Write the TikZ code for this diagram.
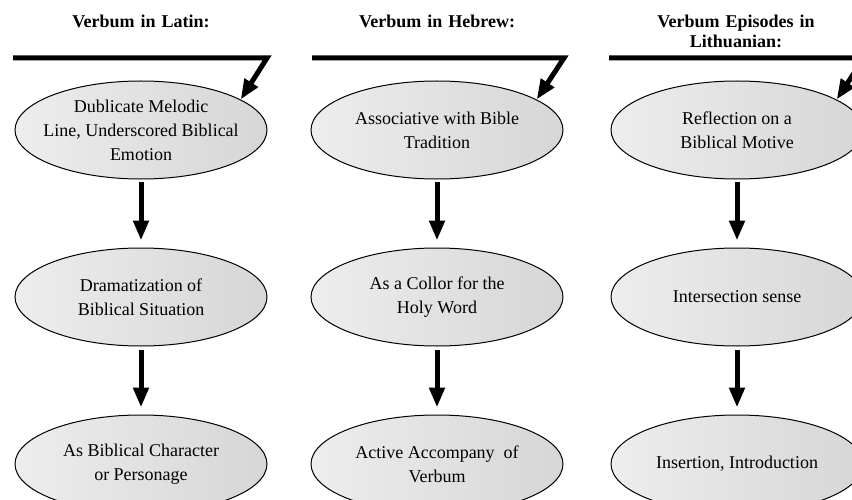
\documentclass[tikz,border=0pt]{standalone}
\usepackage{fontspec}
\setmainfont{Liberation Serif}
\usetikzlibrary{positioning,shapes.geometric,arrows.meta}

\begin{document}
\begin{tikzpicture}[x=1pt,y=-1pt,
        oval/.style={ellipse,draw,line width=1pt,minimum width=252pt,minimum height=98pt,inner sep=-12pt,
          align=center,font=\fontsize{18}{24}\selectfont,
          left color=black!7,middle color=black!1,right color=black!16,node distance=68pt},
        head/.style={anchor=base,text width=240pt,align=center,font=\fontsize{18}{20}\selectfont\bfseries},
        bar/.style={line width=5pt,line join=miter,-{Triangle[length=20pt,width=15pt]}},
        arr/.style={line width=5pt,-{Triangle[length=20pt,width=15pt]},shorten <=3pt,shorten >=7pt}]
   \clip (0,0) rectangle (852,500);
   % headings
   \node[head] (tL) at (141,28) {Verbum in Latin:};
   \node[head] (tH) at (437,28) {Verbum in Hebrew:};
   \node[head] (tT) at (736,28) {Verbum Episodes in\\Lithuanian:};
   % Latin
   \node[oval] (L1) at (141,130) {Dublicate Melodic\\Line, Underscored Biblical\\Emotion};
   \node[oval] (L2) [below=of L1] {Dramatization of\\Biblical Situation};
   \node[oval] (L3) [below=of L2] {As Biblical Character\\or Personage};
   % Hebrew
   \node[oval] (H1) at (437,130) {Associative with Bible\\Tradition};
   \node[oval] (H2) [below=of H1] {As a Collor for the\\Holy Word};
   \node[oval] (H3) [below=of H2] {Active Accompany\ \ of\\Verbum};
   % Lithuanian
   \node[oval] (T1) at (737,130) {Reflection on a\\Biblical Motive};
   \node[oval] (T2) [below=of T1] {Intersection sense};
   \node[oval] (T3) [below=of T2] {Insertion, Introduction};
   % bars
   \coordinate (Lb) at (13,58);  \coordinate (Lk) at (267,58);
   \coordinate (Hb) at (312,58); \coordinate (Hk) at (564,58);
   \coordinate (Tb) at (609,58); \coordinate (Tk) at (864,58);
   \draw[bar] (Lb) -- (Lk) -- (L1.17);
   \draw[bar] (Hb) -- (Hk) -- (H1.17);
   \draw[bar] (Tb) -- (Tk) -- (T1.17);
   % arrows
   \draw[arr] (L1) -- (L2);
   \draw[arr] (L2) -- (L3);
   \draw[arr] (H1) -- (H2);
   \draw[arr] (H2) -- (H3);
   \draw[arr] (T1) -- (T2);
   \draw[arr] (T2) -- (T3);
\end{tikzpicture}
\end{document}
